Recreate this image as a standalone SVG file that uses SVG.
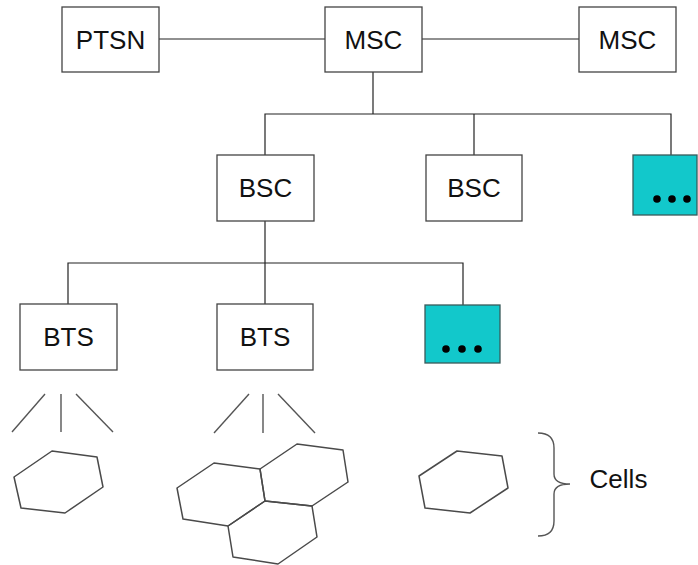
<svg xmlns="http://www.w3.org/2000/svg" width="698" height="565" viewBox="0 0 698 565">
  <style>
    .box { fill: #ffffff; stroke: #444444; stroke-width: 1.3; }
    .more { fill: #12c8cb; stroke: #3a5a5a; stroke-width: 1.3; }
    .lbl { font-family: "Liberation Sans", Arial, sans-serif; font-size: 26px; fill: #111111; text-anchor: middle; }
    .wire { fill: none; stroke: #222222; stroke-width: 1.2; }
    .ant { fill: none; stroke: #555555; stroke-width: 1.4; }
    .cell { fill: none; stroke: #4a4a4a; stroke-width: 1.5; stroke-linejoin: round; }
    .dot { fill: #000000; }
  </style>

  <!-- connectors -->
  <g id="connectors">
    <line class="wire" x1="159" y1="39" x2="325" y2="39"/>
    <line class="wire" x1="422" y1="39" x2="579" y2="39"/>
    <polyline class="wire" points="373,72 373,114"/>
    <polyline class="wire" points="265,155 265,114 671,114 671,155"/>
    <line class="wire" x1="474" y1="114" x2="474" y2="155"/>
    <polyline class="wire" points="265,221 265,263"/>
    <polyline class="wire" points="68,304 68,263 463,263 463,305"/>
    <line class="wire" x1="265" y1="263" x2="265" y2="304"/>
  </g>

  <!-- switching level -->
  <g id="ptsn">
    <rect class="box" x="62" y="7" width="97" height="65"/>
    <text class="lbl" x="110.5" y="49">PTSN</text>
  </g>
  <g id="msc-main">
    <rect class="box" x="325" y="7" width="97" height="65"/>
    <text class="lbl" x="373.5" y="49">MSC</text>
  </g>
  <g id="msc-peer">
    <rect class="box" x="579" y="7" width="97" height="65"/>
    <text class="lbl" x="627.5" y="49">MSC</text>
  </g>

  <!-- controller level -->
  <g id="bsc-1">
    <rect class="box" x="217" y="155" width="97" height="66"/>
    <text class="lbl" x="265.5" y="197">BSC</text>
  </g>
  <g id="bsc-2">
    <rect class="box" x="426" y="155" width="96" height="66"/>
    <text class="lbl" x="474" y="197">BSC</text>
  </g>
  <g id="bsc-more">
    <rect class="more" x="633" y="155" width="64" height="60"/>
    <circle class="dot" cx="657" cy="199" r="3.8"/>
    <circle class="dot" cx="672" cy="199" r="3.8"/>
    <circle class="dot" cx="687" cy="199" r="3.8"/>
  </g>

  <!-- transceiver level -->
  <g id="bts-1">
    <rect class="box" x="20" y="304" width="97" height="66"/>
    <text class="lbl" x="68.5" y="346">BTS</text>
  </g>
  <g id="bts-2">
    <rect class="box" x="217" y="304" width="96" height="66"/>
    <text class="lbl" x="265" y="346">BTS</text>
  </g>
  <g id="bts-more">
    <rect class="more" x="425" y="305" width="75" height="58"/>
    <circle class="dot" cx="446" cy="349" r="3.8"/>
    <circle class="dot" cx="462" cy="349" r="3.8"/>
    <circle class="dot" cx="478" cy="349" r="3.8"/>
  </g>

  <!-- antenna fans -->
  <g id="antenna-1">
    <line class="ant" x1="45" y1="394" x2="12" y2="432"/>
    <line class="ant" x1="61" y1="394" x2="61" y2="432"/>
    <line class="ant" x1="76" y1="394" x2="113" y2="432"/>
  </g>
  <g id="antenna-2">
    <line class="ant" x1="249" y1="394" x2="214" y2="433"/>
    <line class="ant" x1="263" y1="394" x2="263" y2="433"/>
    <line class="ant" x1="278" y1="394" x2="315" y2="433"/>
  </g>

  <!-- cells -->
  <g id="cell-1">
    <polygon class="cell" points="52,451 97,457 103,487 65,513 21,508 14,477"/>
  </g>
  <g id="cell-cluster">
    <polygon class="cell" points="214,463 260,469 265,501 228,526 183,519 177,488"/>
    <polygon class="cell" points="297,444 343,450 348,482 312,506 265,501 260,469"/>
    <polygon class="cell" points="265,501 312,506 317,537 278,564 233,557 228,526"/>
  </g>
  <g id="cell-3">
    <polygon class="cell" points="457,451 502,456 508,488 470,513 425,508 419,476"/>
  </g>

  <!-- brace and caption -->
  <g id="cells-label">
    <path class="ant" d="M538,433 Q554,433 554,448 L554,474 Q554,484 570,484 Q554,484 554,494 L554,521 Q554,536 538,536"/>
    <text class="lbl" x="618.5" y="488">Cells</text>
  </g>
</svg>
